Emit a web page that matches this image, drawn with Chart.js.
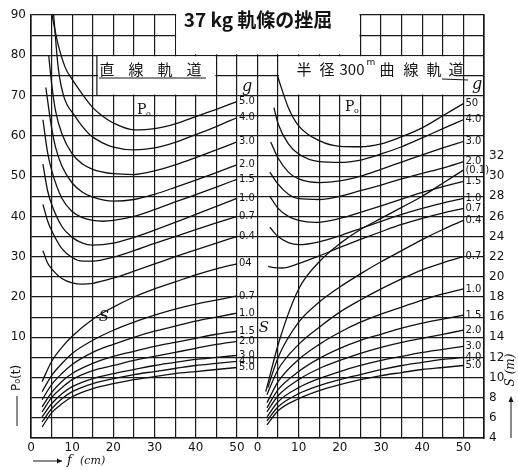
<!DOCTYPE html>
<html>
<head>
<meta charset="utf-8">
<script src="https://cdn.jsdelivr.net/npm/chart.js@4/dist/chart.umd.min.js"></script>
<style>
  html, body { margin: 0; padding: 0; background: #fff; }
  #wrap { width: 518px; height: 470px; }
</style>
</head>
<body>
<div id="wrap"><canvas id="c" width="518" height="470"></canvas></div>
<script>
// ---- 直線軌道 (straight track): P0 curves, [f (cm), P0 (t)] ----
const straightP0_50 = [[5.1,90],[6.5,83],[8.3,77],[10,74],[12.5,70.3],[15,67],[17.5,64.8],[20,63.2],[25,61.5],[30,61.8],[35,63],[40,64.8],[45,66.6],[50,68.5]];
const straightP0_40 = [[5.5,90],[6.6,77],[7.9,70],[10.6,65],[12.5,62.3],[14.6,60],[17.5,58.2],[20,57.2],[25,56.5],[30,57],[35,58.4],[40,60.3],[45,62.3],[50,64.5]];
const straightP0_30 = [[4.3,80],[5,73],[6,66],[7.5,60.5],[10,55.5],[12.5,53],[15,51.7],[20,50.6],[25,50.4],[30,51.3],[35,52.8],[40,54.6],[45,56.5],[50,58.5]];
const straightP0_20 = [[3.6,72],[5,62],[6,57],[7.5,52.5],[10,48.3],[12.5,46],[15,44.8],[20,43.8],[25,44.2],[30,45.5],[35,47.2],[40,49],[45,50.9],[50,52.8]];
const straightP0_15 = [[2.9,64],[4,56],[5,51.5],[7.5,44.5],[10,41.2],[12.5,39.7],[15,39],[17.5,38.8],[20,39],[25,40],[30,41.7],[35,43.6],[40,45.4],[45,47.3],[50,49.2]];
const straightP0_10 = [[2.9,53],[4,46.5],[5,43],[7.5,37.5],[10,34.8],[12.5,33.4],[15,32.9],[20,33.4],[25,34.8],[30,36.6],[35,38.5],[40,40.5],[45,42.5],[50,44.5]];
const straightP0_07 = [[2.9,43],[4,39],[5,36.5],[7.5,32],[10,29.8],[12.5,28.9],[15,28.9],[20,29.9],[25,31.5],[30,33.3],[35,35],[40,36.7],[45,38.4],[50,40]];
const straightP0_04 = [[2.9,31.5],[4,28.5],[5,27],[7.5,24.6],[10,23.5],[12.5,23.2],[15,23.4],[20,24.7],[25,26.4],[30,28.2],[35,30],[40,31.7],[45,33.4],[50,35]];

// ---- 直線軌道: S curves, [f (cm), S (m)] ----
const straightS_04 = [[2.7,9.6],[5,11.6],[7.5,13.0],[10,14.1],[15,15.8],[20,17.0],[25,18.0],[30,18.8],[35,19.5],[40,20.2],[45,20.8],[50,21.3]];
const straightS_07 = [[2.7,8.6],[5,10.2],[7.5,11.4],[10,12.4],[15,13.7],[20,14.7],[25,15.5],[30,16.2],[35,16.8],[40,17.3],[45,17.7],[50,18.1]];
const straightS_10 = [[2.7,7.8],[5,9.3],[7.5,10.4],[10,11.3],[15,12.5],[20,13.3],[25,14.0],[30,14.6],[35,15.1],[40,15.6],[45,16.0],[50,16.4]];
const straightS_15 = [[2.7,7.1],[5,8.5],[7.5,9.6],[10,10.4],[15,11.4],[20,12.1],[25,12.6],[30,13.1],[35,13.5],[40,13.9],[45,14.3],[50,14.6]];
const straightS_20 = [[2.7,6.6],[5,8.0],[7.5,9.0],[10,9.8],[15,10.7],[20,11.2],[25,11.7],[30,12.1],[35,12.5],[40,12.9],[45,13.3],[50,13.6]];
const straightS_30 = [[2.7,6.1],[5,7.4],[7.5,8.4],[10,9.1],[15,9.9],[20,10.4],[25,10.8],[30,11.2],[35,11.5],[40,11.8],[45,12.0],[50,12.2]];
const straightS_40 = [[2.7,5.6],[5,6.9],[7.5,7.9],[10,8.6],[15,9.4],[20,9.9],[25,10.3],[30,10.6],[35,10.9],[40,11.2],[45,11.4],[50,11.6]];
const straightS_50 = [[2.7,5.1],[5,6.5],[7.5,7.4],[10,8.1],[15,8.9],[20,9.4],[25,9.8],[30,10.1],[35,10.4],[40,10.6],[45,10.8],[50,11.0]];

// ---- 半径300m曲線軌道 (curved track): P0 curves ----
const curvedP0_50 = [[4.8,75],[7.5,67],[10,62.5],[15,58.8],[20,57.4],[25,57.3],[30,58],[35,59.8],[40,62],[45,65],[50,68]];
const curvedP0_40 = [[4,67],[5,63],[7.5,58],[10,55.5],[15,53.6],[20,53.4],[25,54],[30,55.5],[35,57.3],[40,59.5],[45,61.8],[50,64]];
const curvedP0_30 = [[3.2,58.5],[5,54.5],[7.5,51],[10,49.3],[15,48.4],[20,48.8],[25,50],[30,51.7],[35,53.5],[40,55.3],[45,57],[50,58.6]];
const curvedP0_20 = [[3,51],[5,48],[7.5,45.5],[10,44.4],[15,44.2],[20,45],[25,46.4],[30,47.8],[35,49.3],[40,50.7],[45,52],[50,53.6]];
const curvedP0_15 = [[3,45],[5,42],[7.5,40],[10,39],[14,38.5],[20,39.5],[25,41],[30,42.6],[35,44.3],[40,46],[45,47.4],[50,48.7]];
const curvedP0_10 = [[3,37.3],[5,35],[7.5,33.5],[10,33],[15,33.7],[20,35.2],[25,37],[30,38.8],[35,40.5],[40,42],[45,43.3],[50,44.5]];
const curvedP0_07 = [[2.6,27.6],[4,27.3],[6,27.2],[10,28.3],[15,30.2],[20,32.3],[25,34.3],[30,36.2],[35,38],[40,39.5],[45,40.8],[50,42]];

// ---- 半径300m曲線軌道: S curves ----
const curvedS_01 = [[2,8.6],[5.4,13.8],[10,18.8],[15,21.5],[20,23.3],[25,24.7],[30,25.8],[35,26.9],[40,28],[45,29.3],[50,30.6]];
const curvedS_04 = [[2.5,9],[5,12],[10,15.5],[15,17.5],[20,19],[25,20.3],[30,21.5],[35,22.6],[40,23.7],[45,24.7],[50,25.6]];
const curvedS_07 = [[2.3,8.3],[5,10.8],[10,13.3],[15,15],[20,16.5],[25,17.7],[30,18.8],[35,19.8],[40,20.7],[45,21.4],[50,22]];
const curvedS_10 = [[2.3,7.5],[5,9.6],[10,11.8],[15,13.3],[20,14.5],[25,15.5],[30,16.3],[35,17],[40,17.7],[45,18.3],[50,18.8]];
const curvedS_15 = [[2.3,7],[5,8.8],[10,10.6],[15,11.9],[20,12.9],[25,13.7],[30,14.3],[35,14.9],[40,15.4],[45,15.8],[50,16.2]];
const curvedS_20 = [[2.3,6.6],[5,8.2],[10,9.8],[15,10.9],[20,11.7],[25,12.4],[30,13],[35,13.5],[40,13.9],[45,14.3],[50,14.7]];
const curvedS_30 = [[2.3,6.1],[5,7.6],[10,9],[15,9.9],[20,10.6],[25,11.2],[30,11.7],[35,12.1],[40,12.5],[45,12.8],[50,13.1]];
const curvedS_40 = [[2.3,5.7],[5,7.1],[10,8.4],[15,9.2],[20,9.8],[25,10.3],[30,10.8],[35,11.2],[40,11.5],[45,11.8],[50,12]];
const curvedS_50 = [[2.3,5.3],[5,6.7],[10,7.9],[15,8.7],[20,9.3],[25,9.8],[30,10.2],[35,10.5],[40,10.8],[45,11],[50,11.2]];

// tick labels
const fTickLabels = ['0','10','20','30','40','50'];
const pTickLabels = ['10','20','30','40','50','60','70','80','90'];
const sTickLabels = ['4','6','8','10','12','14','16','18','20','22','24','26','28','30','32'];

// the right panel's f = 0 sits at x = 55 on the shared horizontal scale
const RIGHT_OFFSET = 55;

function curve(arr, offset, axis, label) {
  return {
    data: arr.map(([f, v]) => ({ x: f + offset, y: v })),
    yAxisID: axis,
    endLabel: label,
    showLine: true,
    borderColor: '#111',
    borderWidth: 1.3,
    pointRadius: 0,
    fill: false,
    cubicInterpolationMode: 'monotone'
  };
}

const datasets = [
  curve(straightP0_50, 0, 'yP', '5.0'),
  curve(straightP0_40, 0, 'yP', '4.0'),
  curve(straightP0_30, 0, 'yP', '3.0'),
  curve(straightP0_20, 0, 'yP', '2.0'),
  curve(straightP0_15, 0, 'yP', '1.5'),
  curve(straightP0_10, 0, 'yP', '1.0'),
  curve(straightP0_07, 0, 'yP', '0.7'),
  curve(straightP0_04, 0, 'yP', '0.4'),
  curve(straightS_04, 0, 'yS', '04'),
  curve(straightS_07, 0, 'yS', '0.7'),
  curve(straightS_10, 0, 'yS', '1.0'),
  curve(straightS_15, 0, 'yS', '1.5'),
  curve(straightS_20, 0, 'yS', '2.0'),
  curve(straightS_30, 0, 'yS', '3.0'),
  curve(straightS_40, 0, 'yS', '4.0'),
  curve(straightS_50, 0, 'yS', '5.0'),
  curve(curvedP0_50, RIGHT_OFFSET, 'yP', '50'),
  curve(curvedP0_40, RIGHT_OFFSET, 'yP', '4.0'),
  curve(curvedP0_30, RIGHT_OFFSET, 'yP', '3.0'),
  curve(curvedP0_20, RIGHT_OFFSET, 'yP', '2.0'),
  curve(curvedP0_15, RIGHT_OFFSET, 'yP', '1.5'),
  curve(curvedP0_10, RIGHT_OFFSET, 'yP', '1.0'),
  curve(curvedP0_07, RIGHT_OFFSET, 'yP', '0.7'),
  curve(curvedS_01, RIGHT_OFFSET, 'yS', '(0.1)'),
  curve(curvedS_04, RIGHT_OFFSET, 'yS', '0.4'),
  curve(curvedS_07, RIGHT_OFFSET, 'yS', '0.7'),
  curve(curvedS_10, RIGHT_OFFSET, 'yS', '1.0'),
  curve(curvedS_15, RIGHT_OFFSET, 'yS', '1.5'),
  curve(curvedS_20, RIGHT_OFFSET, 'yS', '2.0'),
  curve(curvedS_30, RIGHT_OFFSET, 'yS', '3.0'),
  curve(curvedS_40, RIGHT_OFFSET, 'yS', '4.0'),
  curve(curvedS_50, RIGHT_OFFSET, 'yS', '5.0')
];

const INK = '#141414';
const NUM_FONT = 'DejaVu Sans';
const JP_FONT = '"Noto Sans CJK JP"';

// white panels (title strip and the two caption boxes) drawn over the grid
const panelPlugin = {
  id: 'panels',
  beforeDatasetsDraw(chart) {
    const { ctx } = chart;
    const x = chart.scales.x, y = chart.scales.yP;
    const px = v => x.getPixelForValue(v), py = v => y.getPixelForValue(v);
    ctx.save();
    ctx.fillStyle = '#fff';
    // title strip
    ctx.fillRect(px(35) + 1, py(90) - 3, px(80) - px(35) - 2, py(80) - py(90) + 2);
    // caption boxes
    ctx.fillRect(px(16) + 1, py(80) + 1, px(45) - px(16) - 2, py(70) - py(80) - 2);
    ctx.fillRect(px(60) + 1, py(80) + 1, px(105) - px(60) - 2, py(70) - py(80) - 2);
    ctx.strokeStyle = INK;
    ctx.lineWidth = 1.2;
    ctx.beginPath();
    ctx.moveTo(px(16), py(80));
    ctx.lineTo(px(16), py(70));
    ctx.stroke();
    ctx.restore();
  },
  afterDatasetsDraw(chart) {
    const { ctx } = chart;
    ctx.save();
    ctx.fillStyle = INK;
    ctx.strokeStyle = INK;

    // curve labels at the right end of each line
    ctx.font = '10px ' + NUM_FONT;
    ctx.textBaseline = 'middle';
    ctx.textAlign = 'left';
    chart.data.datasets.forEach((ds, i) => {
      const meta = chart.getDatasetMeta(i);
      const last = meta.data[meta.data.length - 1];
      if (!last || !ds.endLabel) return;
      ctx.fillText(ds.endLabel, last.x + 2, last.y);
    });

    // title
    ctx.font = 'bold 19px ' + JP_FONT;
    ctx.textAlign = 'center';
    ctx.textBaseline = 'alphabetic';
    ctx.fillText('37 kg 軌條の挫屈', 258, 27);

    // caption: straight track
    ctx.font = '15px ' + JP_FONT;
    ctx.textBaseline = 'middle';
    const cap1 = ['直', '線', '軌', '道'];
    cap1.forEach((ch, k) => ctx.fillText(ch, 107 + k * 29, 69));
    ctx.lineWidth = 1;
    ctx.beginPath();
    ctx.moveTo(99, 78); ctx.lineTo(206, 78);
    ctx.stroke();

    // caption: curved track, radius 300 m
    ctx.textAlign = 'center';
    const cap2 = [['半', 304], ['径', 327], ['曲', 387], ['線', 411], ['軌', 434], ['道', 456]];
    cap2.forEach(([ch, cx]) => ctx.fillText(ch, cx, 69));
    ctx.fillText('300', 352, 69);
    ctx.font = '9px ' + NUM_FONT;
    ctx.fillText('m', 371, 63);
    ctx.lineWidth = 1;
    ctx.beginPath();
    ctx.moveTo(442, 79); ctx.lineTo(468, 80);
    ctx.stroke();

    // P0 markers
    ctx.textAlign = 'left';
    ctx.font = '14px "DejaVu Serif"';
    ctx.fillText('P', 137, 110);
    ctx.fillText('P', 345, 107);
    ctx.font = '8px "DejaVu Serif"';
    ctx.fillText('o', 146, 114);
    ctx.fillText('o', 354, 111);

    // g column headers
    ctx.font = 'italic 16px "DejaVu Serif"';
    ctx.textAlign = 'center';
    ctx.fillText('g', 247, 87);
    ctx.fillText('g', 477, 85);

    // S markers
    ctx.font = 'italic 15px "DejaVu Serif"';
    ctx.fillText('S', 104, 317);
    ctx.fillText('S', 264, 328);

    // horizontal axis title with arrow
    ctx.lineWidth = 1;
    ctx.beginPath();
    ctx.moveTo(33, 461); ctx.lineTo(62, 461);
    ctx.stroke();
    ctx.beginPath();
    ctx.moveTo(62, 461); ctx.lineTo(57, 458.5); ctx.lineTo(57, 463.5); ctx.closePath();
    ctx.fill();
    ctx.font = 'italic 13px "DejaVu Serif"';
    ctx.textAlign = 'left';
    ctx.fillText('f', 67, 461);
    ctx.font = 'italic 11px "DejaVu Serif"';
    ctx.fillText('(cm)', 80, 461);

    // left vertical title P0(t)
    ctx.save();
    ctx.translate(17, 378);
    ctx.rotate(-Math.PI / 2);
    ctx.font = '12px ' + NUM_FONT;
    ctx.textAlign = 'center';
    ctx.fillText('P₀(t)', 0, 0);
    ctx.restore();
    ctx.beginPath();
    ctx.moveTo(17, 396); ctx.lineTo(17, 426);
    ctx.stroke();

    // right vertical title S(m) with arrow
    ctx.save();
    ctx.translate(511, 370);
    ctx.rotate(-Math.PI / 2);
    ctx.font = 'italic 12px "DejaVu Serif"';
    ctx.textAlign = 'center';
    ctx.fillText('S (m)', 0, 0);
    ctx.restore();
    ctx.beginPath();
    ctx.moveTo(511, 438); ctx.lineTo(511, 399);
    ctx.stroke();
    ctx.beginPath();
    ctx.moveTo(511, 396); ctx.lineTo(508.5, 402); ctx.lineTo(513.5, 402); ctx.closePath();
    ctx.fill();

    ctx.restore();
  }
};

const gridStyle = { color: '#1a1a1a', lineWidth: 1.2, drawTicks: false };

new Chart(document.getElementById('c'), {
  type: 'scatter',
  data: { datasets },
  options: {
    responsive: false,
    animation: false,
    devicePixelRatio: 1,
    layout: { padding: { top: 15, left: 0, right: 0, bottom: 0 } },
    plugins: { legend: { display: false }, tooltip: { enabled: false } },
    scales: {
      x: {
        type: 'linear', min: 0, max: 110,
        afterFit(s) { s.height = 32; },
        grid: gridStyle,
        border: { display: true, color: INK, width: 1.6 },
        ticks: {
          stepSize: 5, autoSkip: false, maxRotation: 0, padding: 3,
          color: INK, font: { family: NUM_FONT, size: 12 },
          callback(v) {
            if (v <= 50 && v % 10 === 0) return fTickLabels[v / 10];
            if (v >= RIGHT_OFFSET && v <= RIGHT_OFFSET + 50 && (v - RIGHT_OFFSET) % 10 === 0)
              return fTickLabels[(v - RIGHT_OFFSET) / 10];
            return '';
          }
        }
      },
      yP: {
        type: 'linear', position: 'left', min: -15, max: 90,
        afterFit(s) { s.width = 31; },
        grid: gridStyle,
        border: { display: true, color: INK, width: 1.6 },
        ticks: {
          stepSize: 5, autoSkip: false, padding: 5,
          color: INK, font: { family: NUM_FONT, size: 12 },
          callback(v) { return (v >= 10 && v % 10 === 0) ? pTickLabels[v / 10 - 1] : ''; }
        }
      },
      yS: {
        type: 'linear', position: 'right', min: 4, max: 46,
        afterFit(s) { s.width = 34; },
        grid: { display: false, drawTicks: false },
        border: { display: true, color: INK, width: 1.6 },
        ticks: {
          stepSize: 2, autoSkip: false, padding: 5,
          color: INK, font: { family: NUM_FONT, size: 12 },
          callback(v) { return (v <= 32) ? sTickLabels[(v - 4) / 2] : ''; }
        }
      }
    }
  },
  plugins: [panelPlugin]
});
</script>
</body>
</html>
